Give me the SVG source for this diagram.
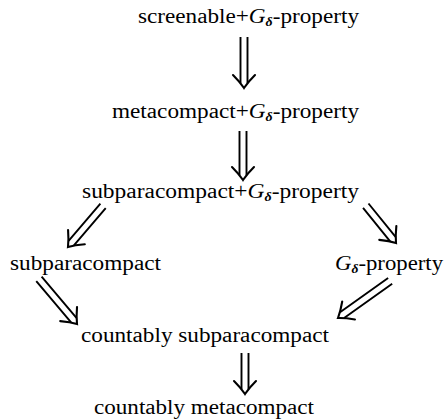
<svg xmlns="http://www.w3.org/2000/svg" width="445" height="419" viewBox="0 0 445 419">
<style>
  text { font-family: "Liberation Serif", "Times New Roman", serif; font-size: 20px; fill: #000; }
  .it { font-style: italic; }
  .sub { font-size: 12px; font-style: italic; font-weight: bold; }
  .shaft { fill: none; stroke: #000; stroke-width: 1.9; }
  .head { fill: none; stroke: #000; stroke-width: 2.1; stroke-linecap: round; }
</style>
<defs>
  <path id="head" class="head" d="M -11 -13 Q -4 -6 0 0 Q 4 -6 11 -13"/>
</defs>
<rect width="445" height="419" fill="#fff"/>

<g id="n1"><text x="138" y="23" textLength="221" lengthAdjust="spacingAndGlyphs">screenable+<tspan class="it">G</tspan><tspan class="sub" dy="3">δ</tspan><tspan dy="-3">-property</tspan></text></g>
<g id="n2"><text x="112" y="118" textLength="247" lengthAdjust="spacingAndGlyphs">metacompact+<tspan class="it">G</tspan><tspan class="sub" dy="3">δ</tspan><tspan dy="-3">-property</tspan></text></g>
<g id="n3"><text x="82" y="198" textLength="277" lengthAdjust="spacingAndGlyphs">subparacompact+<tspan class="it">G</tspan><tspan class="sub" dy="3">δ</tspan><tspan dy="-3">-property</tspan></text></g>
<g id="n4"><text x="10" y="270" textLength="151" lengthAdjust="spacingAndGlyphs">subparacompact</text></g>
<g id="n5"><text x="335" y="270" textLength="108" lengthAdjust="spacingAndGlyphs"><tspan class="it">G</tspan><tspan class="sub" dy="3">δ</tspan><tspan dy="-3">-property</tspan></text></g>
<g id="n6"><text x="81" y="342" textLength="248" lengthAdjust="spacingAndGlyphs">countably subparacompact</text></g>
<g id="n7"><text x="94" y="414" textLength="220" lengthAdjust="spacingAndGlyphs">countably metacompact</text></g>

<g id="connectors">
  <g transform="translate(244,88)"><path class="shaft" d="M -3.5 -51 V -5 M 3.5 -51 V -5"/><use href="#head"/></g>
  <g transform="translate(243,180)"><path class="shaft" d="M -3.5 -49 V -5 M 3.5 -49 V -5"/><use href="#head"/></g>
  <g transform="translate(68,247) rotate(40.49)"><path class="shaft" d="M -3.5 -54 V -5 M 3.5 -54 V -5"/><use href="#head"/></g>
  <g transform="translate(396,243) rotate(-39.04)"><path class="shaft" d="M -3.5 -48 V -5 M 3.5 -48 V -5"/><use href="#head"/></g>
  <g transform="translate(77,324) rotate(-40.18)"><path class="shaft" d="M -3.5 -59 V -5 M 3.5 -59 V -5"/><use href="#head"/></g>
  <g transform="translate(338,318) rotate(54.57)"><path class="shaft" d="M -3.5 -64 V -5 M 3.5 -64 V -5"/><use href="#head"/></g>
  <g transform="translate(245,394)"><path class="shaft" d="M -3.5 -41 V -5 M 3.5 -41 V -5"/><use href="#head"/></g>
</g>
</svg>
